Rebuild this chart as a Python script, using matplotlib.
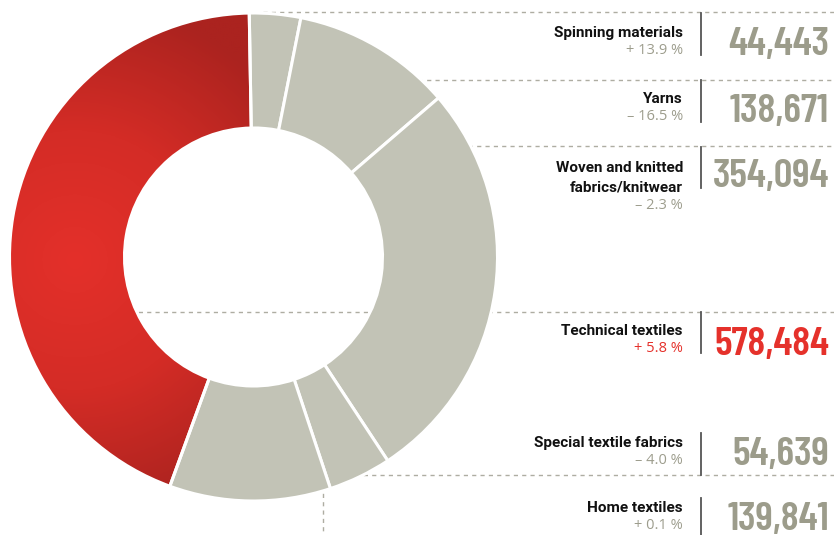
import matplotlib

matplotlib.use("Agg")

import matplotlib.pyplot as plt
import numpy as np
from matplotlib.colors import LinearSegmentedColormap

# clockwise from the top of the ring
segments = ["Spinning materials", "Yarns", "Woven and knitted\nfabrics/knitwear",
            "Special textile fabrics", "Home textiles", "Technical textiles"]
values = [44443, 138671, 354094, 54639, 139841, 578484]
changes = ["+13.9%", "\u201316.5%", "\u20132.3%", "\u20134.0%", "+0.1%", "+5.8%"]

W, H = 834, 535
GRAY = "#c2c3b6"
NUM_GRAY = "#9c9c8b"
PCT_GRAY = "#9d9d8d"
RED = "#e5312b"
DASH = "#aeada2"

NUMFONT = ["Barlow Condensed", "DejaVu Sans"]
LABFONT = ["Roboto", "DejaVu Sans"]
PCTFONT = ["Open Sans", "DejaVu Sans"]


def Y(y):
    # image rows (top down) -> axis units
    return H - y


fig = plt.figure(figsize=(W / 100, H / 100), dpi=100)
ax = fig.add_axes([0, 0, 1, 1])

cx, cy = 253.5, Y(257)
R, r_in = 244, 129

colors = [GRAY] * 5 + ["none"]
wedges, _ = ax.pie(
    values,
    center=(cx, cy),
    radius=R,
    startangle=91,
    counterclock=False,
    colors=colors,
    wedgeprops=dict(width=R - r_in, edgecolor="white", linewidth=2.2, zorder=3),
)

# radial gradient for the red segment
gx, gy = np.meshgrid(np.linspace(cx - R, cx + R, 400), np.linspace(cy - R, cy + R, 400))
dist = np.hypot(gx - 75, gy - Y(260)) / 260.0
cmap = LinearSegmentedColormap.from_list("redgrad", ["#e4302a", "#d42c26", "#ab231f"])
img = ax.imshow(
    np.clip(dist, 0, 1),
    cmap=cmap,
    vmin=0,
    vmax=1,
    extent=(cx - R, cx + R, cy - R, cy + R),
    origin="lower",
    zorder=2,
    interpolation="bilinear",
)
img.set_clip_path(wedges[-1])

# dashed guide lines (behind the ring)
dash_kw = dict(color=DASH, linewidth=1.0, linestyle=(0, (3, 3)), zorder=1)
for y0, x0 in [(12, 263), (80, 410), (146, 460), (312, 130), (475, 355)]:
    ax.plot([x0, W], [Y(y0), Y(y0)], **dash_kw)
ax.plot([323, 323], [Y(485), Y(H)], **dash_kw)

# label blocks: (label baseline, number baseline, divider top, divider bottom)
rows = [
    (37, 55, 13, 55),
    (103, 122, 80, 122),
    (172, 187, 147, 188),
    (447, 465, 433, 475),
    (512, 530, 498, 535),
    (335, 355, 312, 353),
]

for seg, val, chg, (lb, nb, d0, d1) in zip(segments, values, changes, rows):
    is_red = seg == "Technical textiles"
    lines = seg.split("\n")
    for i, line in enumerate(lines):
        ax.text(683, Y(lb + 20 * i), line, ha="right", va="baseline", fontsize=11,
                fontweight="bold", family=LABFONT, color="#111111")
    pct = chg[0] + " " + chg[1:-1] + " %"
    ax.text(683, Y(lb + 20 * (len(lines) - 1) + 17), pct, ha="right", va="baseline",
            fontsize=10.5, family=PCTFONT, color=RED if is_red else PCT_GRAY)
    ax.text(829, Y(nb), f"{val:,}", ha="right", va="baseline", fontsize=29.5,
            fontweight="semibold", family=NUMFONT, color=RED if is_red else NUM_GRAY)
    ax.plot([701, 701], [Y(d0), Y(d1)], color="#555555", linewidth=1.3)

ax.set_xlim(0, W)
ax.set_ylim(0, H)
ax.set_aspect("equal")
ax.axis("off")

fig.savefig("out.png", dpi=100)
plt.close(fig)
